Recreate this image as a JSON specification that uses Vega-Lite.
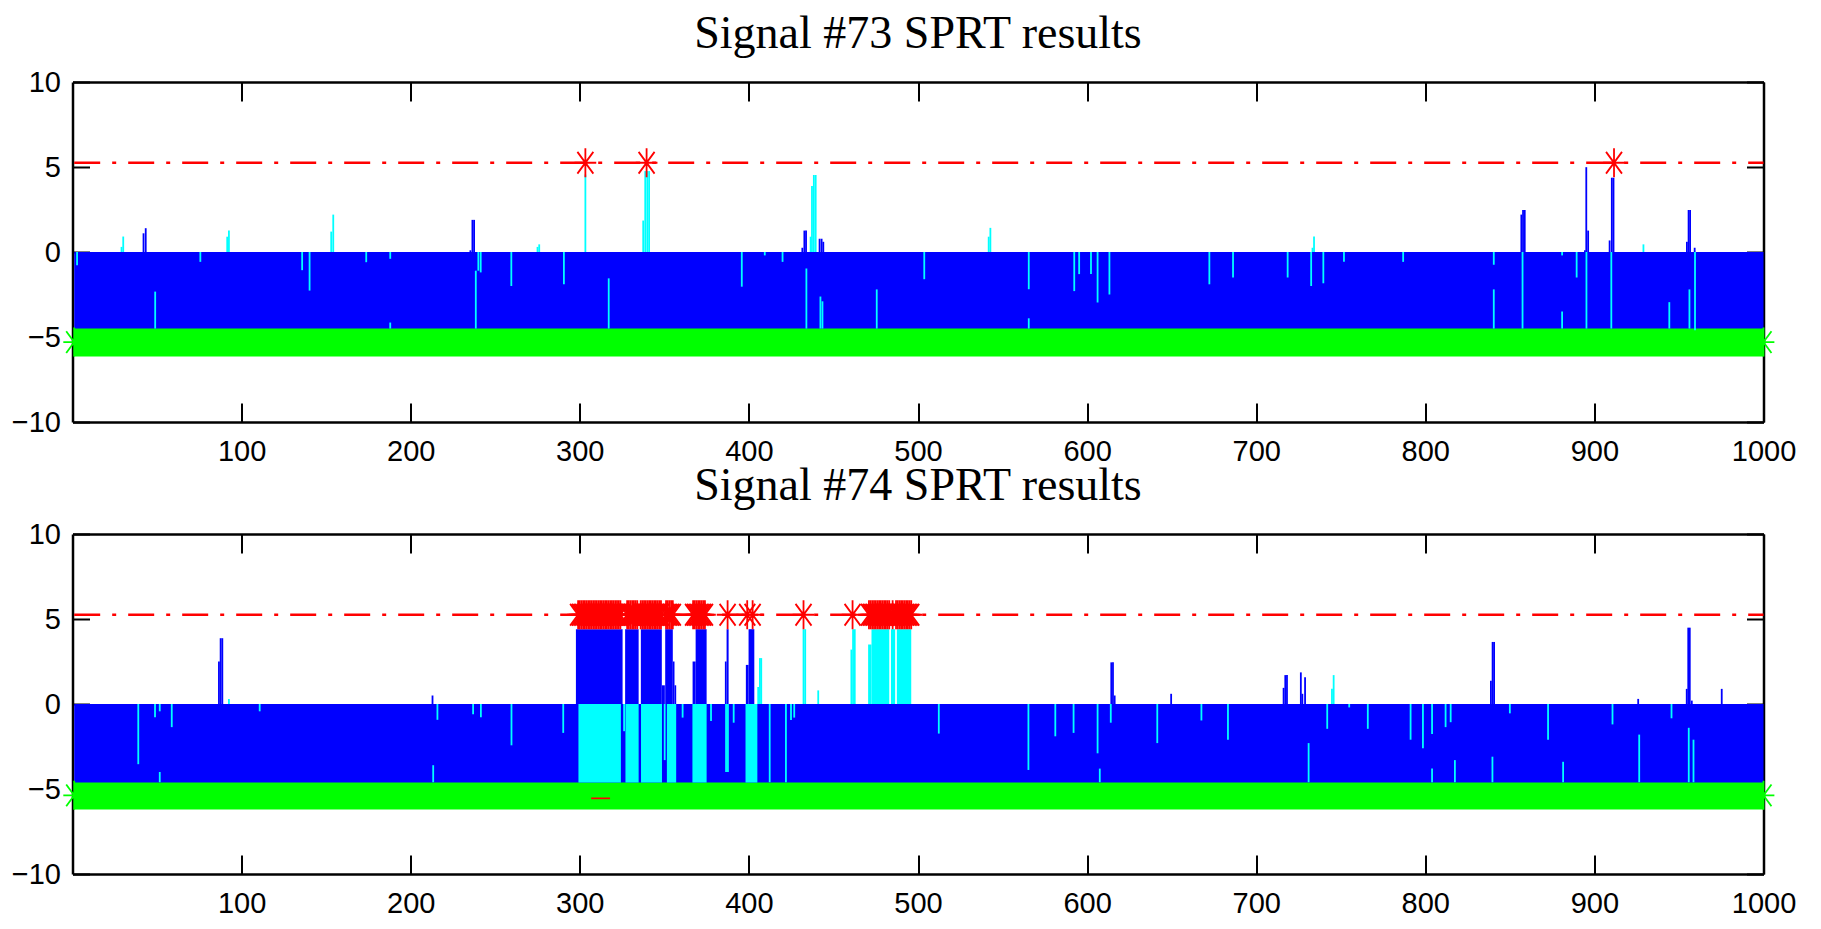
{
  "$schema": "https://vega.github.io/schema/vega-lite/v6.json",
  "background": "white",
  "padding": {"left": 10.5, "top": 11, "right": 5, "bottom": 5},
  "config": {"view": {"stroke": null}},
  "datasets": {
    "bands": [
      {"p":73,"s":"g","x":1,"x2":1000,"y":-6.15,"y2":-4.45},
      {"p":73,"s":"b","x":1,"x2":1000,"y":-4.5,"y2":0},
      {"p":74,"s":"g","x":1,"x2":1000,"y":-6.2,"y2":-4.55},
      {"p":74,"s":"b","x":1,"x2":1000,"y":-4.62,"y2":0},
      {"p":74,"s":"r","x":306.7,"x2":317.9,"y":-5.6,"y2":-5.5},
      {"p":74,"s":"c","x":299.2,"x2":324.3,"y":-4.62,"y2":0},
      {"p":74,"s":"c","x":327,"x2":334.8,"y":-4.62,"y2":0},
      {"p":74,"s":"c","x":336.2,"x2":348.6,"y":-4.62,"y2":0},
      {"p":74,"s":"c","x":351.5,"x2":357,"y":-4.62,"y2":0},
      {"p":74,"s":"c","x":366.6,"x2":375,"y":-4.62,"y2":0},
      {"p":74,"s":"c","x":398,"x2":405,"y":-4.62,"y2":0},
      {"p":74,"s":"b","x":297.7,"x2":325.3,"y":0,"y2":4.4},
      {"p":74,"s":"b","x":326.8,"x2":334.8,"y":0,"y2":4.4},
      {"p":74,"s":"b","x":336.1,"x2":348.5,"y":0,"y2":4.4},
      {"p":74,"s":"b","x":348.5,"x2":350.3,"y":0,"y2":1.1},
      {"p":74,"s":"b","x":350.5,"x2":355,"y":0,"y2":4.4},
      {"p":74,"s":"b","x":355,"x2":356,"y":0,"y2":2.5},
      {"p":74,"s":"b","x":356,"x2":357,"y":0,"y2":1.1},
      {"p":74,"s":"b","x":366.7,"x2":368.5,"y":0,"y2":2.5},
      {"p":74,"s":"b","x":368.5,"x2":375,"y":0,"y2":4.4},
      {"p":74,"s":"b","x":385.8,"x2":386.8,"y":0,"y2":2.5},
      {"p":74,"s":"b","x":386.8,"x2":388,"y":0,"y2":4.4},
      {"p":74,"s":"b","x":398.2,"x2":399.8,"y":0,"y2":2.3},
      {"p":74,"s":"b","x":399.8,"x2":403.2,"y":0,"y2":4.4},
      {"p":74,"s":"c","x":470.5,"x2":472.5,"y":0,"y2":3.5},
      {"p":74,"s":"c","x":472.5,"x2":483,"y":0,"y2":4.4},
      {"p":74,"s":"c","x":484,"x2":486.5,"y":0,"y2":4.4},
      {"p":74,"s":"c","x":487.5,"x2":496,"y":0,"y2":4.4}
    ],
    "ticks": [
      {"p":73,"s":"c","x":2.7,"y":0,"y2":-0.78},
      {"p":73,"s":"c","x":48.9,"y":-2.33,"y2":-4.5},
      {"p":73,"s":"c","x":75.6,"y":0,"y2":-0.58},
      {"p":73,"s":"c","x":135.8,"y":0,"y2":-1.07},
      {"p":73,"s":"c","x":140.2,"y":0,"y2":-2.27},
      {"p":73,"s":"c","x":173.7,"y":0,"y2":-0.6},
      {"p":73,"s":"c","x":187.9,"y":0,"y2":-0.4},
      {"p":73,"s":"c","x":187.9,"y":-4.15,"y2":-4.5},
      {"p":73,"s":"c","x":238.5,"y":-1.1,"y2":-4.5},
      {"p":73,"s":"c","x":240,"y":0,"y2":-1.1},
      {"p":73,"s":"c","x":241.4,"y":0,"y2":-1.2},
      {"p":73,"s":"c","x":259.5,"y":0,"y2":-2.0},
      {"p":73,"s":"c","x":290.6,"y":0,"y2":-1.9},
      {"p":73,"s":"c","x":317.1,"y":-1.55,"y2":-4.5},
      {"p":73,"s":"c","x":395.8,"y":0,"y2":-2.04},
      {"p":73,"s":"c","x":409.4,"y":0,"y2":-0.2},
      {"p":73,"s":"c","x":419.9,"y":0,"y2":-0.58},
      {"p":73,"s":"c","x":434,"y":-0.97,"y2":-4.5},
      {"p":73,"s":"c","x":442.3,"y":-2.62,"y2":-4.5},
      {"p":73,"s":"c","x":443.5,"y":-2.9,"y2":-4.5},
      {"p":73,"s":"c","x":475.6,"y":-2.2,"y2":-4.5},
      {"p":73,"s":"c","x":503.7,"y":0,"y2":-1.6},
      {"p":73,"s":"c","x":565.5,"y":0,"y2":-2.19},
      {"p":73,"s":"c","x":565.5,"y":-3.9,"y2":-4.5},
      {"p":73,"s":"c","x":592.4,"y":0,"y2":-2.3},
      {"p":73,"s":"c","x":595.3,"y":0,"y2":-1.3},
      {"p":73,"s":"c","x":602.3,"y":0,"y2":-1.3},
      {"p":73,"s":"c","x":606.2,"y":0,"y2":-2.97},
      {"p":73,"s":"c","x":613.2,"y":0,"y2":-2.5},
      {"p":73,"s":"c","x":672.3,"y":0,"y2":-1.9},
      {"p":73,"s":"c","x":686.3,"y":0,"y2":-1.5},
      {"p":73,"s":"c","x":718.6,"y":0,"y2":-1.5},
      {"p":73,"s":"c","x":732.5,"y":0,"y2":-2.0},
      {"p":73,"s":"c","x":739.7,"y":0,"y2":-1.84},
      {"p":73,"s":"c","x":751.9,"y":0,"y2":-0.58},
      {"p":73,"s":"c","x":786.9,"y":0,"y2":-0.58},
      {"p":73,"s":"c","x":840.5,"y":0,"y2":-0.75},
      {"p":73,"s":"c","x":840.5,"y":-2.2,"y2":-4.5},
      {"p":73,"s":"c","x":857.5,"y":0,"y2":-4.5},
      {"p":73,"s":"c","x":880.9,"y":0,"y2":-0.2},
      {"p":73,"s":"c","x":880.9,"y":-3.5,"y2":-4.5},
      {"p":73,"s":"c","x":889.5,"y":0,"y2":-1.5},
      {"p":73,"s":"c","x":895.3,"y":0,"y2":-4.5},
      {"p":73,"s":"c","x":910,"y":0,"y2":-4.5},
      {"p":73,"s":"c","x":944.3,"y":-2.95,"y2":-4.5},
      {"p":73,"s":"c","x":956.2,"y":-2.2,"y2":-4.5},
      {"p":73,"s":"c","x":959.5,"y":0,"y2":-4.6},
      {"p":73,"s":"c","x":29,"y":0,"y2":0.3},
      {"p":73,"s":"c","x":30,"y":0,"y2":0.91},
      {"p":73,"s":"c","x":91.5,"y":0,"y2":0.9},
      {"p":73,"s":"c","x":92.5,"y":0,"y2":1.26},
      {"p":73,"s":"c","x":153,"y":0,"y2":1.2},
      {"p":73,"s":"c","x":154.2,"y":0,"y2":2.2},
      {"p":73,"s":"c","x":275,"y":0,"y2":0.3},
      {"p":73,"s":"c","x":276,"y":0,"y2":0.45},
      {"p":73,"s":"c","x":303.3,"y":0,"y2":4.56},
      {"p":73,"s":"c","x":337.5,"y":0,"y2":1.85},
      {"p":73,"s":"c","x":338.7,"y":0,"y2":4.76},
      {"p":73,"s":"c","x":339.9,"y":0,"y2":4.76},
      {"p":73,"s":"c","x":341,"y":0,"y2":4.76},
      {"p":73,"s":"c","x":436.5,"y":0,"y2":0.9},
      {"p":73,"s":"c","x":437.3,"y":0,"y2":3.88},
      {"p":73,"s":"c","x":438.4,"y":0,"y2":4.53},
      {"p":73,"s":"c","x":439.5,"y":0,"y2":4.53},
      {"p":73,"s":"c","x":541.8,"y":0,"y2":0.9},
      {"p":73,"s":"c","x":542.8,"y":0,"y2":1.42},
      {"p":73,"s":"c","x":733.3,"y":0,"y2":0.25},
      {"p":73,"s":"c","x":734.2,"y":0,"y2":0.91},
      {"p":73,"s":"c","x":929,"y":0,"y2":0.45},
      {"p":73,"s":"b","x":42,"y":0,"y2":1.1},
      {"p":73,"s":"b","x":43.3,"y":0,"y2":1.4},
      {"p":73,"s":"b","x":235.3,"y":0,"y2":0.1},
      {"p":73,"s":"b","x":236.5,"y":0,"y2":1.89},
      {"p":73,"s":"b","x":237.5,"y":0,"y2":1.89},
      {"p":73,"s":"b","x":431.6,"y":0,"y2":0.25},
      {"p":73,"s":"b","x":432.8,"y":0,"y2":1.26},
      {"p":73,"s":"b","x":433.8,"y":0,"y2":1.26},
      {"p":73,"s":"b","x":441.8,"y":0,"y2":0.78},
      {"p":73,"s":"b","x":443,"y":0,"y2":0.78},
      {"p":73,"s":"b","x":444,"y":0,"y2":0.6},
      {"p":73,"s":"b","x":856.8,"y":0,"y2":2.2},
      {"p":73,"s":"b","x":857.8,"y":0,"y2":2.47},
      {"p":73,"s":"b","x":858.8,"y":0,"y2":2.47},
      {"p":73,"s":"b","x":894.4,"y":0,"y2":0.1},
      {"p":73,"s":"b","x":895.2,"y":0,"y2":4.99},
      {"p":73,"s":"b","x":896.3,"y":0,"y2":1.26},
      {"p":73,"s":"b","x":909,"y":0,"y2":0.68},
      {"p":73,"s":"b","x":910.3,"y":0,"y2":4.37},
      {"p":73,"s":"b","x":911.3,"y":0,"y2":4.37},
      {"p":73,"s":"b","x":954.7,"y":0,"y2":0.6},
      {"p":73,"s":"b","x":955.7,"y":0,"y2":2.47},
      {"p":73,"s":"b","x":956.6,"y":0,"y2":2.47},
      {"p":73,"s":"b","x":959.3,"y":0,"y2":0.25},
      {"p":74,"s":"c","x":38.9,"y":0,"y2":-3.54},
      {"p":74,"s":"c","x":48.8,"y":0,"y2":-0.78},
      {"p":74,"s":"c","x":51.6,"y":0,"y2":-0.43},
      {"p":74,"s":"c","x":51.6,"y":-4.0,"y2":-4.6},
      {"p":74,"s":"c","x":58.7,"y":0,"y2":-1.36},
      {"p":74,"s":"c","x":110.7,"y":0,"y2":-0.43},
      {"p":74,"s":"c","x":213.3,"y":-3.6,"y2":-4.6},
      {"p":74,"s":"c","x":215.8,"y":0,"y2":-0.93},
      {"p":74,"s":"c","x":236.9,"y":0,"y2":-0.6},
      {"p":74,"s":"c","x":241.5,"y":0,"y2":-0.78},
      {"p":74,"s":"c","x":259.6,"y":0,"y2":-2.43},
      {"p":74,"s":"c","x":290.2,"y":0,"y2":-1.7},
      {"p":74,"s":"c","x":326.2,"y":0,"y2":-1.6},
      {"p":74,"s":"c","x":350.2,"y":0,"y2":-3.3},
      {"p":74,"s":"c","x":360.8,"y":0,"y2":-0.8},
      {"p":74,"s":"c","x":377.6,"y":0,"y2":-1.0},
      {"p":74,"s":"c","x":386.5,"y":0,"y2":-4.0},
      {"p":74,"s":"c","x":387.6,"y":0,"y2":-4.0},
      {"p":74,"s":"c","x":391,"y":0,"y2":-1.1},
      {"p":74,"s":"c","x":412.3,"y":0,"y2":-4.6},
      {"p":74,"s":"c","x":421.9,"y":0,"y2":-4.6},
      {"p":74,"s":"c","x":424.9,"y":0,"y2":-0.94},
      {"p":74,"s":"c","x":426.8,"y":0,"y2":-0.8},
      {"p":74,"s":"c","x":512.3,"y":0,"y2":-1.74},
      {"p":74,"s":"c","x":565.3,"y":0,"y2":-3.88},
      {"p":74,"s":"c","x":581.2,"y":0,"y2":-1.9},
      {"p":74,"s":"c","x":592,"y":0,"y2":-1.7},
      {"p":74,"s":"c","x":606.2,"y":0,"y2":-2.9},
      {"p":74,"s":"c","x":607.5,"y":-3.8,"y2":-4.6},
      {"p":74,"s":"c","x":614,"y":0,"y2":-1.1},
      {"p":74,"s":"c","x":641.5,"y":0,"y2":-2.3},
      {"p":74,"s":"c","x":667.6,"y":0,"y2":-0.97},
      {"p":74,"s":"c","x":683.3,"y":0,"y2":-2.1},
      {"p":74,"s":"c","x":731,"y":-2.3,"y2":-4.6},
      {"p":74,"s":"c","x":742,"y":0,"y2":-1.46},
      {"p":74,"s":"c","x":755,"y":0,"y2":-0.2},
      {"p":74,"s":"c","x":766,"y":0,"y2":-1.46},
      {"p":74,"s":"c","x":791.3,"y":0,"y2":-2.1},
      {"p":74,"s":"c","x":798.6,"y":0,"y2":-2.6},
      {"p":74,"s":"c","x":804,"y":0,"y2":-1.76},
      {"p":74,"s":"c","x":804,"y":-3.8,"y2":-4.6},
      {"p":74,"s":"c","x":812,"y":0,"y2":-1.36},
      {"p":74,"s":"c","x":815,"y":0,"y2":-1.07},
      {"p":74,"s":"c","x":817.5,"y":-3.3,"y2":-4.6},
      {"p":74,"s":"c","x":839.7,"y":-3.1,"y2":-4.6},
      {"p":74,"s":"c","x":850,"y":0,"y2":-0.55},
      {"p":74,"s":"c","x":872.6,"y":0,"y2":-2.1},
      {"p":74,"s":"c","x":881.5,"y":-3.4,"y2":-4.6},
      {"p":74,"s":"c","x":910.7,"y":0,"y2":-1.2},
      {"p":74,"s":"c","x":926.5,"y":-1.8,"y2":-4.6},
      {"p":74,"s":"c","x":945.6,"y":0,"y2":-0.84},
      {"p":74,"s":"c","x":955.8,"y":-1.4,"y2":-4.6},
      {"p":74,"s":"c","x":958.6,"y":-2.1,"y2":-4.6},
      {"p":74,"s":"c","x":92.5,"y":0,"y2":0.3},
      {"p":74,"s":"c","x":744.8,"y":0,"y2":0.9},
      {"p":74,"s":"c","x":745.8,"y":0,"y2":1.7},
      {"p":74,"s":"c","x":405.5,"y":0,"y2":1.0},
      {"p":74,"s":"c","x":406.5,"y":0,"y2":2.7},
      {"p":74,"s":"c","x":407.3,"y":0,"y2":2.7},
      {"p":74,"s":"c","x":432.3,"y":0,"y2":4.4},
      {"p":74,"s":"c","x":433.3,"y":0,"y2":4.4},
      {"p":74,"s":"c","x":441,"y":0,"y2":0.8},
      {"p":74,"s":"c","x":460.6,"y":0,"y2":3.2},
      {"p":74,"s":"c","x":461.6,"y":0,"y2":4.4},
      {"p":74,"s":"c","x":462.6,"y":0,"y2":4.4},
      {"p":74,"s":"b","x":86.6,"y":0,"y2":2.5},
      {"p":74,"s":"b","x":87.6,"y":0,"y2":3.87},
      {"p":74,"s":"b","x":88.6,"y":0,"y2":3.87},
      {"p":74,"s":"b","x":212.9,"y":0,"y2":0.5},
      {"p":74,"s":"b","x":614.3,"y":0,"y2":2.45},
      {"p":74,"s":"b","x":615.3,"y":0,"y2":2.45},
      {"p":74,"s":"b","x":616.3,"y":0,"y2":0.5},
      {"p":74,"s":"b","x":649.7,"y":0,"y2":0.6},
      {"p":74,"s":"b","x":716.2,"y":0,"y2":0.95},
      {"p":74,"s":"b","x":717.2,"y":0,"y2":1.7},
      {"p":74,"s":"b","x":718.2,"y":0,"y2":1.7},
      {"p":74,"s":"b","x":726.4,"y":0,"y2":1.86},
      {"p":74,"s":"b","x":727.3,"y":0,"y2":0.6},
      {"p":74,"s":"b","x":728.9,"y":0,"y2":1.57},
      {"p":74,"s":"b","x":838.8,"y":0,"y2":1.37},
      {"p":74,"s":"b","x":839.8,"y":0,"y2":3.65},
      {"p":74,"s":"b","x":840.7,"y":0,"y2":3.65},
      {"p":74,"s":"b","x":925.9,"y":0,"y2":0.3},
      {"p":74,"s":"b","x":954.6,"y":0,"y2":0.89},
      {"p":74,"s":"b","x":955.5,"y":0,"y2":4.49},
      {"p":74,"s":"b","x":956.4,"y":0,"y2":4.49},
      {"p":74,"s":"b","x":957.6,"y":0,"y2":0.2},
      {"p":74,"s":"b","x":975.3,"y":0,"y2":0.89}
    ],
    "thr": [
      {"p":73,"x":1,"x2":1000,"y":5.25},
      {"p":74,"x":1,"x2":1000,"y":5.25}
    ],
    "stars": [
      {"p":73,"s":"g","x":1,"y":-5.3},{"p":73,"s":"g","x":1000,"y":-5.3},
      {"p":73,"s":"r","x":303.3,"y":5.25},{"p":73,"s":"r","x":339.5,"y":5.25},{"p":73,"s":"r","x":911.6,"y":5.25},
      {"p":74,"s":"g","x":1,"y":-5.37},{"p":74,"s":"g","x":1000,"y":-5.37},
      {"p":74,"s":"r","x":299,"y":5.25},{"p":74,"s":"r","x":300,"y":5.25},{"p":74,"s":"r","x":301,"y":5.25},{"p":74,"s":"r","x":302,"y":5.25},{"p":74,"s":"r","x":303,"y":5.25},{"p":74,"s":"r","x":304,"y":5.25},{"p":74,"s":"r","x":305,"y":5.25},{"p":74,"s":"r","x":306,"y":5.25},{"p":74,"s":"r","x":307,"y":5.25},{"p":74,"s":"r","x":308,"y":5.25},{"p":74,"s":"r","x":309,"y":5.25},{"p":74,"s":"r","x":310,"y":5.25},{"p":74,"s":"r","x":311,"y":5.25},{"p":74,"s":"r","x":312,"y":5.25},{"p":74,"s":"r","x":313,"y":5.25},{"p":74,"s":"r","x":314,"y":5.25},{"p":74,"s":"r","x":315,"y":5.25},{"p":74,"s":"r","x":316,"y":5.25},{"p":74,"s":"r","x":317,"y":5.25},{"p":74,"s":"r","x":318,"y":5.25},{"p":74,"s":"r","x":319,"y":5.25},{"p":74,"s":"r","x":320,"y":5.25},{"p":74,"s":"r","x":321,"y":5.25},{"p":74,"s":"r","x":322,"y":5.25},{"p":74,"s":"r","x":323,"y":5.25},{"p":74,"s":"r","x":324,"y":5.25},
      {"p":74,"s":"r","x":328,"y":5.25},{"p":74,"s":"r","x":329,"y":5.25},{"p":74,"s":"r","x":330,"y":5.25},{"p":74,"s":"r","x":331,"y":5.25},{"p":74,"s":"r","x":332,"y":5.25},{"p":74,"s":"r","x":333,"y":5.25},{"p":74,"s":"r","x":334,"y":5.25},
      {"p":74,"s":"r","x":336,"y":5.25},{"p":74,"s":"r","x":337,"y":5.25},{"p":74,"s":"r","x":338,"y":5.25},{"p":74,"s":"r","x":339,"y":5.25},{"p":74,"s":"r","x":340,"y":5.25},{"p":74,"s":"r","x":341,"y":5.25},{"p":74,"s":"r","x":342,"y":5.25},{"p":74,"s":"r","x":343,"y":5.25},{"p":74,"s":"r","x":344,"y":5.25},{"p":74,"s":"r","x":345,"y":5.25},{"p":74,"s":"r","x":346,"y":5.25},{"p":74,"s":"r","x":347,"y":5.25},{"p":74,"s":"r","x":348,"y":5.25},
      {"p":74,"s":"r","x":351,"y":5.25},{"p":74,"s":"r","x":352,"y":5.25},{"p":74,"s":"r","x":353,"y":5.25},{"p":74,"s":"r","x":354,"y":5.25},{"p":74,"s":"r","x":355,"y":5.25},
      {"p":74,"s":"r","x":367,"y":5.25},{"p":74,"s":"r","x":368,"y":5.25},{"p":74,"s":"r","x":369,"y":5.25},{"p":74,"s":"r","x":370,"y":5.25},{"p":74,"s":"r","x":371,"y":5.25},{"p":74,"s":"r","x":372,"y":5.25},{"p":74,"s":"r","x":373,"y":5.25},{"p":74,"s":"r","x":374,"y":5.25},
      {"p":74,"s":"r","x":387.4,"y":5.25},{"p":74,"s":"r","x":399,"y":5.25},{"p":74,"s":"r","x":402.2,"y":5.25},{"p":74,"s":"r","x":432.3,"y":5.25},{"p":74,"s":"r","x":461.3,"y":5.25},
      {"p":74,"s":"r","x":471,"y":5.25},{"p":74,"s":"r","x":472,"y":5.25},{"p":74,"s":"r","x":473,"y":5.25},{"p":74,"s":"r","x":474,"y":5.25},{"p":74,"s":"r","x":475,"y":5.25},{"p":74,"s":"r","x":476,"y":5.25},{"p":74,"s":"r","x":477,"y":5.25},{"p":74,"s":"r","x":478,"y":5.25},{"p":74,"s":"r","x":479,"y":5.25},{"p":74,"s":"r","x":480,"y":5.25},{"p":74,"s":"r","x":481,"y":5.25},{"p":74,"s":"r","x":482,"y":5.25},{"p":74,"s":"r","x":483,"y":5.25},
      {"p":74,"s":"r","x":485,"y":5.25},
      {"p":74,"s":"r","x":487,"y":5.25},{"p":74,"s":"r","x":488,"y":5.25},{"p":74,"s":"r","x":489,"y":5.25},{"p":74,"s":"r","x":490,"y":5.25},{"p":74,"s":"r","x":491,"y":5.25},{"p":74,"s":"r","x":492,"y":5.25},{"p":74,"s":"r","x":493,"y":5.25},{"p":74,"s":"r","x":494,"y":5.25},{"p":74,"s":"r","x":495,"y":5.25},{"p":74,"s":"r","x":496,"y":5.25}
    ]
  },
  "spacing": 112,
  "bounds": "flush",
  "vconcat": [
    {
      "title": {"text": "Signal #73 SPRT results", "font": "Liberation Serif", "fontSize": 46, "fontWeight": "normal", "color": "black", "anchor": "middle", "frame": "group", "offset": -26, "baseline": "alphabetic"},
      "width": 1691, "height": 340,
      "resolve": {"axis": {"x": "independent", "y": "independent"}},
      "layer": [
        {
          "data": {"name": "bands"}, "transform": [{"filter": "datum.p == 73"}],
          "mark": {"type": "rect"},
          "encoding": {
            "x": {"field": "x", "type": "quantitative", "scale": {"domain": [0, 1000], "nice": false, "zero": false},
                  "axis": {"orient": "bottom", "values": [100,200,300,400,500,600,700,800,900,1000], "format": "d", "title": null, "grid": false, "domainColor": "black", "domainWidth": 2.5, "tickColor": "black", "tickWidth": 2, "tickSize": -19, "labelFont": "Liberation Sans", "labelFontSize": 29, "labelColor": "black", "labelPadding": 34, "labelFlush": false, "labelOverlap": false}},
            "x2": {"field": "x2"},
            "y": {"field": "y", "type": "quantitative", "scale": {"domain": [-10, 10], "nice": false, "zero": false},
                  "axis": {"orient": "left", "values": [-10,-5,0,5,10], "format": "d", "title": null, "grid": false, "domainColor": "black", "domainWidth": 2.5, "tickColor": "black", "tickWidth": 2, "tickSize": -17, "labelFont": "Liberation Sans", "labelFontSize": 29, "labelColor": "black", "labelPadding": 29, "labelFlush": false, "labelOverlap": false}},
            "y2": {"field": "y2"},
            "color": {"field": "s", "type": "nominal", "scale": {"domain": ["b","c","g","r"], "range": ["#0000ff","#00ffff","#00ff00","#ff0000"]}, "legend": null}
          }
        },
        {
          "data": {"name": "ticks"}, "transform": [{"filter": "datum.p == 73"}],
          "mark": {"type": "rule", "strokeWidth": 1.8},
          "encoding": {
            "x": {"field": "x", "type": "quantitative", "axis": null},
            "y": {"field": "y", "type": "quantitative", "axis": null},
            "y2": {"field": "y2"},
            "color": {"field": "s", "type": "nominal", "legend": null}
          }
        },
        {
          "data": {"name": "thr"}, "transform": [{"filter": "datum.p == 73"}],
          "mark": {"type": "rule", "color": "#ff0000", "strokeWidth": 2.5, "strokeDash": [26, 12, 4, 12]},
          "encoding": {
            "x": {"field": "x", "type": "quantitative",
                  "axis": {"orient": "top", "values": [100,200,300,400,500,600,700,800,900,1000], "labels": false, "title": null, "grid": false, "domainColor": "black", "domainWidth": 2.5, "tickColor": "black", "tickWidth": 2, "tickSize": -19}},
            "x2": {"field": "x2"},
            "y": {"field": "y", "type": "quantitative",
                  "axis": {"orient": "right", "values": [-10,-5,0,5,10], "labels": false, "title": null, "grid": false, "domainColor": "black", "domainWidth": 2.5, "tickColor": "black", "tickWidth": 2, "tickSize": -17}}
          }
        },
        {
          "data": {"name": "stars"}, "transform": [{"filter": "datum.p == 73"}],
          "mark": {"type": "point", "shape": "M0,-1L0,1M-0.75,0L0.75,0M-0.55,-0.75L0.55,0.75M-0.55,0.75L0.55,-0.75", "filled": false, "size": 841, "strokeWidth": 1.8, "opacity": 1},
          "encoding": {
            "x": {"field": "x", "type": "quantitative", "axis": null},
            "y": {"field": "y", "type": "quantitative", "axis": null},
            "color": {"field": "s", "type": "nominal", "legend": null}
          }
        }
      ]
    },
    {
      "title": {"text": "Signal #74 SPRT results", "font": "Liberation Serif", "fontSize": 46, "fontWeight": "normal", "color": "black", "anchor": "middle", "frame": "group", "offset": -26, "baseline": "alphabetic"},
      "width": 1691, "height": 340,
      "resolve": {"axis": {"x": "independent", "y": "independent"}},
      "layer": [
        {
          "data": {"name": "bands"}, "transform": [{"filter": "datum.p == 74"}],
          "mark": {"type": "rect"},
          "encoding": {
            "x": {"field": "x", "type": "quantitative", "scale": {"domain": [0, 1000], "nice": false, "zero": false},
                  "axis": {"orient": "bottom", "values": [100,200,300,400,500,600,700,800,900,1000], "format": "d", "title": null, "grid": false, "domainColor": "black", "domainWidth": 2.5, "tickColor": "black", "tickWidth": 2, "tickSize": -19, "labelFont": "Liberation Sans", "labelFontSize": 29, "labelColor": "black", "labelPadding": 34, "labelFlush": false, "labelOverlap": false}},
            "x2": {"field": "x2"},
            "y": {"field": "y", "type": "quantitative", "scale": {"domain": [-10, 10], "nice": false, "zero": false},
                  "axis": {"orient": "left", "values": [-10,-5,0,5,10], "format": "d", "title": null, "grid": false, "domainColor": "black", "domainWidth": 2.5, "tickColor": "black", "tickWidth": 2, "tickSize": -17, "labelFont": "Liberation Sans", "labelFontSize": 29, "labelColor": "black", "labelPadding": 29, "labelFlush": false, "labelOverlap": false}},
            "y2": {"field": "y2"},
            "color": {"field": "s", "type": "nominal", "scale": {"domain": ["b","c","g","r"], "range": ["#0000ff","#00ffff","#00ff00","#ff0000"]}, "legend": null}
          }
        },
        {
          "data": {"name": "ticks"}, "transform": [{"filter": "datum.p == 74"}],
          "mark": {"type": "rule", "strokeWidth": 1.8},
          "encoding": {
            "x": {"field": "x", "type": "quantitative", "axis": null},
            "y": {"field": "y", "type": "quantitative", "axis": null},
            "y2": {"field": "y2"},
            "color": {"field": "s", "type": "nominal", "legend": null}
          }
        },
        {
          "data": {"name": "thr"}, "transform": [{"filter": "datum.p == 74"}],
          "mark": {"type": "rule", "color": "#ff0000", "strokeWidth": 2.5, "strokeDash": [26, 12, 4, 12]},
          "encoding": {
            "x": {"field": "x", "type": "quantitative",
                  "axis": {"orient": "top", "values": [100,200,300,400,500,600,700,800,900,1000], "labels": false, "title": null, "grid": false, "domainColor": "black", "domainWidth": 2.5, "tickColor": "black", "tickWidth": 2, "tickSize": -19}},
            "x2": {"field": "x2"},
            "y": {"field": "y", "type": "quantitative",
                  "axis": {"orient": "right", "values": [-10,-5,0,5,10], "labels": false, "title": null, "grid": false, "domainColor": "black", "domainWidth": 2.5, "tickColor": "black", "tickWidth": 2, "tickSize": -17}}
          }
        },
        {
          "data": {"name": "stars"}, "transform": [{"filter": "datum.p == 74"}],
          "mark": {"type": "point", "shape": "M0,-1L0,1M-0.75,0L0.75,0M-0.55,-0.75L0.55,0.75M-0.55,0.75L0.55,-0.75", "filled": false, "size": 841, "strokeWidth": 1.8, "opacity": 1},
          "encoding": {
            "x": {"field": "x", "type": "quantitative", "axis": null},
            "y": {"field": "y", "type": "quantitative", "axis": null},
            "color": {"field": "s", "type": "nominal", "legend": null}
          }
        }
      ]
    }
  ]
}
